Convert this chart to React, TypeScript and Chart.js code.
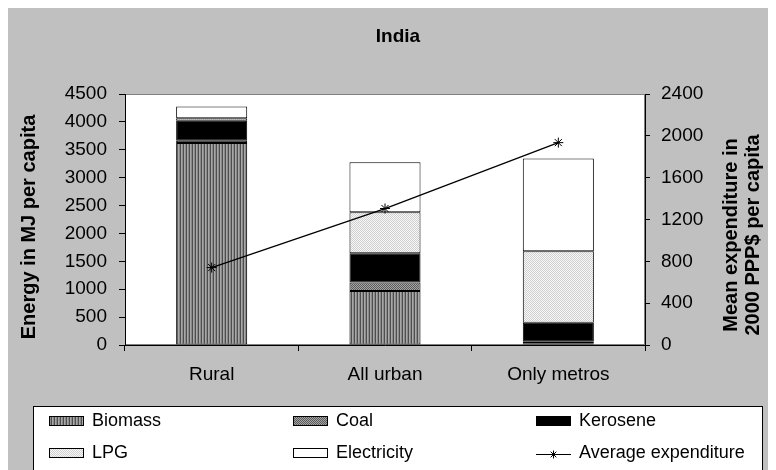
import React, { useEffect, useRef } from "react";
import { Chart, registerables } from "chart.js";

Chart.register(...registerables);

const categories = ["Rural", "All urban", "Only metros"];
const biomass = [3620, 970, 30];
const coal = [40, 150, 30];
const kerosene = [362, 525, 340];
const lpg = [42, 735, 1280];
const electricity = [210, 895, 1665];
const avgExpenditure = [740, 1305, 1935];

const leftMax = 4500;
const leftStep = 500;
const rightMax = 2400;
const rightStep = 400;

const chartTitle = "India";
const leftTitle = "Energy in MJ per capita";
const rightTitle = ["Mean expenditure in", "2000 PPP$ per capita"];

const FONT = "'Liberation Sans', Arial, sans-serif";

function makePattern(rows: string[][]): CanvasPattern | string {
  const c = document.createElement("canvas");
  c.height = rows.length;
  c.width = rows[0].length;
  const cx = c.getContext("2d");
  if (!cx) return "#888";
  rows.forEach((row, y) =>
    row.forEach((col, x) => {
      cx.fillStyle = col;
      cx.fillRect(x, y, 1, 1);
    })
  );
  return cx.createPattern(c, "repeat") || "#888";
}

function drawStar(ctx: CanvasRenderingContext2D, x: number, y: number, r: number) {
  ctx.beginPath();
  ctx.moveTo(x, y - r);
  ctx.lineTo(x, y + r);
  const d = r * Math.SQRT1_2;
  ctx.moveTo(x - d, y - d);
  ctx.lineTo(x + d, y + d);
  ctx.moveTo(x - d, y + d);
  ctx.lineTo(x + d, y - d);
  ctx.moveTo(x - r, y);
  ctx.lineTo(x + r, y);
  ctx.stroke();
}

const decor = {
  id: "decor",
  beforeDraw(chart: any) {
    const { ctx, chartArea: a, width, height } = chart;
    ctx.save();
    ctx.fillStyle = "#c0c0c0";
    ctx.fillRect(0, 0, width, height);
    ctx.fillStyle = "#ffffff";
    ctx.fillRect(a.left, a.top, a.right - a.left, a.bottom - a.top);
    ctx.strokeStyle = "#808080";
    ctx.lineWidth = 1;
    ctx.strokeRect(a.left + 0.5, a.top + 0.5, a.right - a.left - 1, a.bottom - a.top - 1);
    ctx.restore();
  },
  afterDraw(chart: any) {
    const { ctx } = chart;
    ctx.save();
    ctx.fillStyle = "#000";
    ctx.textAlign = "center";
    ctx.textBaseline = "middle";
    // title
    ctx.font = `bold 19px ${FONT}`;
    ctx.fillText(chartTitle, 392, 29);
    // left axis title
    ctx.font = `bold 20px ${FONT}`;
    ctx.save();
    ctx.translate(23, 219);
    ctx.rotate(-Math.PI / 2);
    ctx.fillText(leftTitle, 0, 0);
    ctx.restore();
    // right axis title
    ctx.save();
    ctx.translate(736, 227);
    ctx.rotate(-Math.PI / 2);
    ctx.fillText(rightTitle[0], 0, -11);
    ctx.fillText(rightTitle[1], 0, 11);
    ctx.restore();

    // legend
    const lx = 27, ly = 398, lr = 756;
    ctx.fillStyle = "#fff";
    ctx.fillRect(lx, ly, lr - lx, chart.height - ly + 2);
    ctx.strokeStyle = "#000";
    ctx.lineWidth = 1;
    ctx.strokeRect(lx + 0.5, ly + 0.5, lr - lx, chart.height - ly + 2);
    const colX = [43, 287, 530];
    const rowY = [413, 445];
    ctx.font = `18px ${FONT}`;
    ctx.textAlign = "left";
    chart.data.datasets.forEach((ds: any, i: number) => {
      const x = colX[i % 3];
      const y = rowY[Math.floor(i / 3)];
      if (ds.type === "line") {
        ctx.strokeStyle = "#000";
        ctx.lineWidth = 1;
        ctx.beginPath();
        ctx.moveTo(x, y + 1.5);
        ctx.lineTo(x + 35, y + 1.5);
        ctx.stroke();
        drawStar(ctx, x + 17.5, y + 1.5, 4);
      } else {
        ctx.fillStyle = ds.backgroundColor;
        ctx.fillRect(x, y - 5, 35, 9);
        ctx.strokeStyle = "#000";
        ctx.strokeRect(x + 0.5, y - 4.5, 34, 9);
      }
      ctx.fillStyle = "#000";
      ctx.fillText(ds.label, x + 43, y);
    });
    ctx.restore();
  },
};

export default function App() {
  const ref = useRef<HTMLCanvasElement | null>(null);
  useEffect(() => {
    if (!ref.current) return;
    Chart.defaults.font.family = FONT;
    const biomassPat = makePattern([["#4e4e4e", "#a8a8a8", "#8a8a8a"]]);
    const coalPat = makePattern([
      ["#5c5c5c", "#a4a4a4"],
      ["#a4a4a4", "#5c5c5c"],
    ]);
    const lpgPat = makePattern([
      ["#d0d0d0", "#f7f7f7"],
      ["#f7f7f7", "#d0d0d0"],
    ]);
    const barCommon = {
      type: "bar" as const,
      borderColor: "#000",
      borderWidth: 1,
      borderSkipped: false,
      barPercentage: 0.41,
      categoryPercentage: 1,
      yAxisID: "y",
      order: 1,
    };
    const plain = (v: any) => String(v);
    const chart = new Chart(ref.current, {
      data: {
        labels: categories,
        datasets: [
          { ...barCommon, label: "Biomass", data: biomass, backgroundColor: biomassPat as any },
          { ...barCommon, label: "Coal", data: coal, backgroundColor: coalPat as any },
          { ...barCommon, label: "Kerosene", data: kerosene, backgroundColor: "#000" },
          { ...barCommon, label: "LPG", data: lpg, backgroundColor: lpgPat as any },
          { ...barCommon, label: "Electricity", data: electricity, backgroundColor: "#fff" },
          {
            type: "line" as const,
            label: "Average expenditure",
            data: avgExpenditure,
            yAxisID: "y1",
            borderColor: "#000",
            borderWidth: 1.3,
            pointStyle: "star",
            pointRadius: 5,
            pointBorderColor: "#000",
            pointBorderWidth: 1,
            backgroundColor: "#000",
            tension: 0,
            order: 0,
          },
        ] as any,
      },
      options: {
        responsive: false,
        animation: false,
        devicePixelRatio: 1,
        layout: { padding: { top: 86, left: 0, right: 0, bottom: 0 } },
        plugins: {
          legend: { display: false },
          title: { display: false },
          tooltip: { enabled: false },
        },
        scales: {
          x: {
            type: "category",
            stacked: true,
            offset: true,
            afterFit: (s: any) => {
              s.height = 125;
            },
            grid: {
              offset: true,
              drawOnChartArea: false,
              drawTicks: true,
              tickLength: 6,
              color: "#000",
            },
            border: { color: "#000", width: 1 },
            ticks: {
              color: "#000",
              padding: 12,
              maxRotation: 0,
              minRotation: 0,
              autoSkip: false,
              font: { size: 19, family: FONT },
            },
          },
          y: {
            type: "linear",
            position: "left",
            stacked: true,
            min: 0,
            max: leftMax,
            afterFit: (s: any) => {
              s.width = 119;
            },
            grid: { drawOnChartArea: false, tickLength: 6, color: "#000" },
            border: { color: "#000", width: 1 },
            ticks: {
              stepSize: leftStep,
              color: "#000",
              padding: 12,
              callback: plain,
              font: { size: 19, family: FONT },
            },
          },
          y1: {
            type: "linear",
            position: "right",
            min: 0,
            max: rightMax,
            afterFit: (s: any) => {
              s.width = 131;
            },
            grid: { drawOnChartArea: false, tickLength: 5, color: "#000" },
            border: { color: "#000", width: 1 },
            ticks: {
              stepSize: rightStep,
              color: "#000",
              padding: 11,
              callback: plain,
              font: { size: 19, family: FONT },
            },
          },
        },
      } as any,
      plugins: [decor],
    });
    return () => chart.destroy();
  }, []);
  return (
    <div style={{ marginLeft: -2 }}>
      <canvas ref={ref} width={770} height={462} style={{ display: "block" }} />
    </div>
  );
}
